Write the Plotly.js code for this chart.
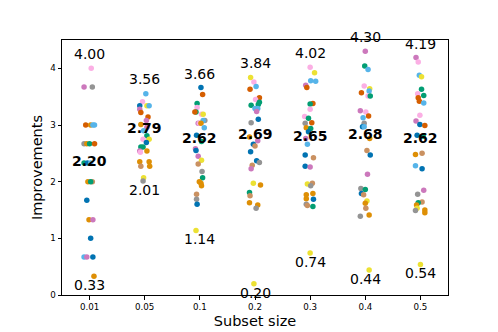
<!DOCTYPE html>
<html>
<head>
<meta charset="utf-8">
<script src="https://cdn.plot.ly/plotly-3.0.1.min.js"></script>
<style>
  html, body { margin: 0; padding: 0; background: #fff; }
  #chart { width: 498px; height: 332px; }
</style>
</head>
<body>
<div id="chart"></div>
<script>
// seaborn "colorblind" palette
const palette = ['#0173b2', '#de8f05', '#029e73', '#d55e00', '#cc78bc',
                 '#ca9161', '#fbafe4', '#949494', '#ece133', '#56b4e9'];

const subsetSizes = ['0.01', '0.05', '0.1', '0.2', '0.3', '0.4', '0.5'];

// printed labels (max / mean / min per subset size)
const maxVals  = [4.00, 3.56, 3.66, 3.84, 4.02, 4.30, 4.19];
const meanVals = [2.20, 2.79, 2.62, 2.69, 2.65, 2.68, 2.62];
const minVals  = [0.33, 2.01, 1.14, 0.20, 0.74, 0.44, 0.54];

// improvements per subset size, colour index per point, horizontal jitter
const imp001 = [4.00, 3.67, 3.67, 3.00, 3.00, 3.00, 3.00, 2.67, 2.67, 2.67, 2.67, 2.33, 2.33, 2.33,
                2.00, 2.00, 2.00, 1.67, 1.33, 1.33, 1.00, 0.67, 0.67, 0.67, 0.33];
const col001 = [6, 4, 7, 3, 1, 9, 9, 7, 1, 2, 3, 2, 0, 9, 1, 5, 2, 0, 1, 4, 0, 9, 4, 0, 1];
const jit001 = [0.03, -0.10, 0.05, -0.07, 0.02, 0.06, 0.09, -0.10, -0.05, 0.00, 0.09, -0.10, -0.04, 0.02,
                -0.03, 0.05, 0.02, -0.05, -0.01, 0.06, 0.02, -0.10, -0.05, 0.06, 0.08];

const imp005 = [3.55, 3.41, 3.34, 3.34, 3.34, 3.28, 3.22, 3.14, 3.08, 3.01, 2.96, 2.90, 2.81, 2.75,
                2.75, 2.69, 2.61, 2.61, 2.54, 2.54, 2.52, 2.35, 2.35, 2.27, 2.27, 2.07, 2.01];
const col005 = [9, 6, 0, 8, 9, 4, 3, 3, 4, 1, 4, 9, 2, 6, 8, 0, 2, 2, 4, 1, 6, 1, 1, 5, 1, 8, 7];
const jit005 = [0.02, -0.04, -0.09, 0.04, 0.08, -0.09, -0.07, 0.06, 0.03, -0.07, 0.04, -0.02, 0.04, -0.03,
                0.08, 0.03, -0.07, -0.03, -0.09, 0.04, -0.08, -0.09, 0.08, -0.07, 0.09, -0.02, -0.03];

const imp01 = [3.66, 3.54, 3.38, 3.31, 3.23, 3.23, 3.19, 3.19, 3.08, 3.08, 3.03, 3.03, 3.03, 2.95, 2.82,
               2.71, 2.58, 2.55, 2.45, 2.38, 2.31, 2.18, 2.07, 2.00, 1.97, 1.93, 1.78, 1.69, 1.60, 1.14];
const col01 = [0, 3, 2, 6, 2, 3, 6, 8, 7, 9, 4, 6, 1, 9, 0, 2, 4, 0, 4, 8, 5, 7, 2, 1, 1, 1, 5, 7, 0, 8];
const jit01 = [0.02, 0.05, -0.05, -0.05, -0.07, -0.09, 0.03, 0.06, 0.09, 0.06, -0.03, -0.01, 0.02, 0.08, -0.06,
               0.03, -0.08, -0.07, -0.03, 0.03, -0.03, 0.04, 0.05, -0.01, 0.02, 0.03, -0.06, -0.06, -0.05, -0.07];

const imp02 = [3.84, 3.76, 3.68, 3.63, 3.48, 3.45, 3.40, 3.36, 3.35, 3.29, 3.29, 3.24, 3.10, 3.04, 2.79, 2.72,
               2.66, 2.63, 2.53, 2.37, 2.34, 2.29, 2.23, 1.97, 1.94, 1.81, 1.75, 1.63, 1.59, 1.53, 0.20];
const col02 = [8, 6, 9, 3, 3, 6, 2, 2, 2, 9, 9, 4, 0, 7, 1, 4, 0, 5, 0, 0, 7, 5, 4, 8, 1, 2, 5, 1, 1, 7, 8];
const jit02 = [-0.08, -0.02, 0.02, -0.09, 0.08, 0.01, 0.08, 0.06, -0.07, 0.00, 0.05, 0.03, 0.06, -0.07, -0.10, 0.05,
               -0.03, 0.00, -0.08, 0.03, 0.08, -0.05, -0.07, -0.03, 0.10, -0.10, -0.09, -0.10, 0.05, 0.02, -0.02];

const imp03 = [4.02, 3.92, 3.78, 3.77, 3.70, 3.66, 3.38, 3.37, 3.28, 3.15, 3.12, 3.04, 3.03, 2.95, 2.94, 2.88, 2.76,
               2.66, 2.47, 2.42, 2.27, 2.26, 1.97, 1.96, 1.93, 1.79, 1.77, 1.70, 1.69, 1.60, 1.58, 1.56, 0.74];
const col03 = [6, 8, 9, 9, 4, 3, 3, 2, 6, 6, 2, 3, 7, 1, 2, 0, 4,
               9, 0, 5, 0, 4, 5, 8, 7, 1, 1, 1, 0, 7, 5, 2, 8];
const jit03 = [0.00, 0.08, 0.01, 0.10, -0.08, -0.06, 0.05, 0.00, 0.00, -0.10, -0.03, 0.03, -0.09, -0.07, 0.01, -0.03, -0.08,
               -0.05, -0.09, 0.06, -0.09, 0.00, 0.04, -0.05, 0.01, 0.05, -0.07, -0.07, 0.06, -0.07, -0.05, 0.05, 0.00];

const imp04 = [4.30, 4.04, 3.98, 3.69, 3.64, 3.60, 3.57, 3.51, 3.51, 3.25, 3.23, 3.16, 3.13, 3.03, 2.97,
               2.97, 2.76, 2.55, 2.47, 2.13, 1.88, 1.86, 1.79, 1.77, 1.66, 1.62, 1.53, 1.41, 1.39, 0.44];
const col04 = [4, 2, 9, 6, 8, 9, 3, 6, 2, 4, 6, 3, 9, 7, 0, 9, 1, 5, 0, 4, 7, 2, 0, 5, 8, 1, 5, 1, 7, 8];
const jit04 = [0.00, -0.01, 0.05, -0.02, 0.08, 0.07, -0.07, 0.05, 0.09, -0.09, 0.01, 0.06, -0.04, -0.02, -0.05,
               -0.02, 0.08, 0.03, 0.09, 0.04, -0.08, 0.00, -0.07, -0.03, 0.03, 0.00, 0.01, 0.07, -0.09, 0.07];

const imp05 = [4.19, 4.11, 3.88, 3.85, 3.63, 3.55, 3.52, 3.48, 3.42, 3.39, 3.17, 3.07, 3.01, 2.99, 2.82,
               2.80, 2.50, 2.48, 2.28, 2.23, 1.85, 1.78, 1.64, 1.63, 1.59, 1.53, 1.50, 1.49, 1.45, 0.54];
const col05 = [4, 6, 9, 8, 2, 6, 2, 3, 3, 9, 6, 4, 0, 3, 0, 2, 5, 1, 9, 0, 4, 7, 5, 2, 1, 8, 1, 7, 1, 8];
const jit05 = [-0.08, -0.04, -0.02, 0.02, 0.02, -0.05, 0.06, -0.04, -0.02, 0.06, -0.01, -0.08, -0.01, 0.08, -0.06,
               0.05, 0.03, -0.09, -0.09, 0.03, 0.06, -0.05, 0.03, -0.04, -0.07, -0.06, 0.08, -0.09, 0.08, 0.00];

const columns = [
  [imp001, col001, jit001],
  [imp005, col005, jit005],
  [imp01, col01, jit01],
  [imp02, col02, jit02],
  [imp03, col03, jit03],
  [imp04, col04, jit04],
  [imp05, col05, jit05],
];

const traces = columns.map(([vals, cols, jit], i) => ({
  x: vals.map((_, k) => i + jit[k]),
  y: vals,
  type: 'scatter',
  mode: 'markers',
  marker: { size: 5.5, color: cols.map(c => palette[c]) },
  hoverinfo: 'y',
  showlegend: false
}));

const font = 'DejaVu Sans, sans-serif';
const annotations = [];
subsetSizes.forEach((_, i) => {
  annotations.push({
    x: i, y: maxVals[i], text: maxVals[i].toFixed(2), showarrow: false,
    xanchor: 'center', yanchor: 'bottom', yshift: 4,
    font: { family: font, size: 14, color: '#000' }
  });
  annotations.push({
    x: i, y: meanVals[i], text: '<b>' + meanVals[i].toFixed(2) + '</b>', showarrow: false,
    xanchor: 'center', yanchor: 'bottom', yshift: -1,
    font: { family: font, size: 14, color: '#000' }
  });
  annotations.push({
    x: i, y: minVals[i], text: minVals[i].toFixed(2), showarrow: false,
    xanchor: 'center', yanchor: 'bottom', yshift: -19,
    font: { family: font, size: 14, color: '#000' }
  });
});

const layout = {
  width: 498,
  height: 332,
  margin: { l: 62, r: 50, t: 40, b: 37 },
  paper_bgcolor: '#fff',
  plot_bgcolor: '#fff',
  font: { family: font, color: '#000' },
  xaxis: {
    range: [-0.5, 6.5],
    tickmode: 'array',
    tickvals: subsetSizes.map((_, i) => i),
    ticktext: subsetSizes,
    tickfont: { size: 8.7 },
    ticks: 'outside', ticklen: 3.5, tickwidth: 1, tickcolor: '#000',
    showline: true, mirror: true, linecolor: '#000', linewidth: 1,
    showgrid: false, zeroline: false,
    title: { text: 'Subset size', font: { size: 14.5 }, standoff: 4 }
  },
  yaxis: {
    range: [0, 4.5],
    tickvals: [0, 1, 2, 3, 4],
    tickfont: { size: 8.7 },
    ticks: 'outside', ticklen: 3.5, tickwidth: 1, tickcolor: '#000',
    showline: true, mirror: true, linecolor: '#000', linewidth: 1,
    showgrid: false, zeroline: false,
    title: { text: 'Improvements', font: { size: 14.5 }, standoff: 4 }
  },
  annotations: annotations
};

Plotly.newPlot('chart', traces, layout, { displayModeBar: false, staticPlot: true });
</script>
</body>
</html>
